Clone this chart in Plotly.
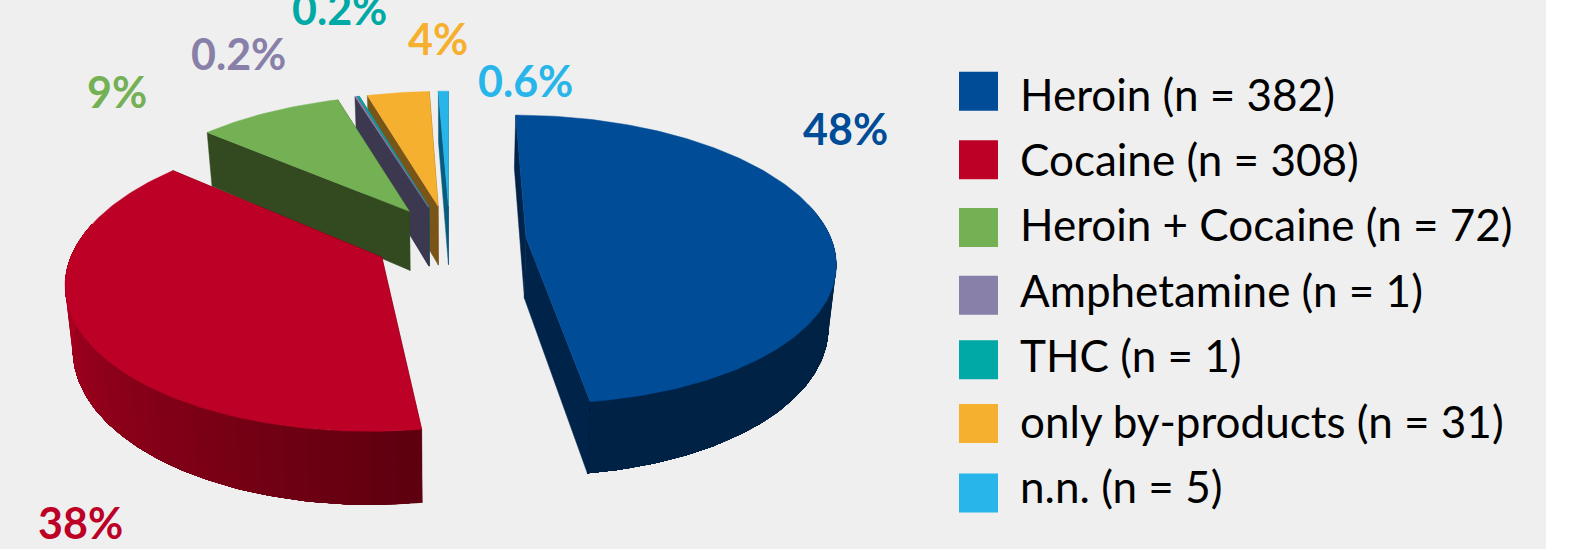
import math
import plotly.graph_objects as go

# Drug groups and their case counts
categories = ["Heroin", "Cocaine", "Heroin + Cocaine", "Amphetamine", "THC", "only by-products", "n.n."]
counts = [382, 308, 72, 1, 1, 31, 5]
percent_labels = ["48%", "38%", "9%", "0.2%", "0.2%", "4%", "0.6%"]

top_colors = ["#004C97", "#BC0026", "#74B054", "#8880A8", "#00A9A6", "#F6B02F", "#27B5EA"]
side_dark = ["#00234A", "#5E000F", "#334A20", "#3C384F", "#0B5A63", "#7A5518", "#0A5C7E"]
side_light = ["#002244", "#B00022", "#334A20", "#3C384F", "#0B5A63", "#7A5518", "#0A5C7E"]
label_centers = [(845, 128), (80, 522), (117, 91), (238, 53), (339, 8), (438, 38), (525, 80)]
swatch_rows = [91.3, 159.7, 227.5, 295.2, 359.7, 423.5, 493]

# Perspective camera for the pie's ground plane (pixel units)
VANISH_X = 448
CENTER_X, CENTER_Y = 450, 240
RADIUS_X, RADIUS_Y = 305.5, 141.7
PERSPECTIVE = 0.152
EXPLODE = 0.25
DEPTH = 61
BOTTOM_SCALE = 0.98
BACKGROUND = "#EFEFEF"


def project(wx, wy, bottom=False):
    """Ground-plane point to pixel coordinates, optionally on the lower face."""
    w = 1 + PERSPECTIVE * wy
    px = VANISH_X + (CENTER_X - VANISH_X + RADIUS_X * wx) / w
    py = CENTER_Y - RADIUS_Y * wy / w
    if bottom:
        px = VANISH_X + (px - VANISH_X) * BOTTOM_SCALE
        py += DEPTH / w
    return px, py


def mix(c1, c2, t):
    a = [int(c1[i:i + 2], 16) for i in (1, 3, 5)]
    b = [int(c2[i:i + 2], 16) for i in (1, 3, 5)]
    return "rgb({},{},{})".format(*[round(p + (q - p) * t) for p, q in zip(a, b)])


def polygon(points, color, name, stroke=0.5):
    xs = [p[0] for p in points] + [points[0][0]]
    ys = [p[1] for p in points] + [points[0][1]]
    return go.Scatter(x=xs, y=ys, mode="lines", fill="toself", fillcolor=color,
                      line=dict(color=color, width=stroke), name=name,
                      hoverinfo="skip", showlegend=False)


total = sum(counts)
spans, start = [], 0.0
for n in counts:
    sweep = 360 * n / total
    spans.append((start, start + sweep))
    start += sweep


def slice_traces(i):
    a0, a1 = spans[i]
    mid = math.radians((a0 + a1) / 2)
    ox, oy = EXPLODE * math.sin(mid), EXPLODE * math.cos(mid)
    rim = lambda deg: (ox + math.sin(math.radians(deg)), oy + math.cos(math.radians(deg)))
    steps = max(2, int(math.ceil(a1 - a0)))
    angles = [a0 + (a1 - a0) * k / steps for k in range(steps + 1)]
    name = categories[i]
    out = []
    # Radial walls
    for deg in (a0, a1):
        rx, ry = rim(deg)
        out.append(polygon([project(ox, oy), project(rx, ry), project(rx, ry, True), project(ox, oy, True)],
                           side_dark[i], name))
    # Curved wall: each band runs on to the end of the visible arc, so the next band
    # paints over it and no seams show between neighbouring shades
    visible = [d for d in angles if math.cos(math.radians(d)) <= 0.25]
    band_step = 2
    for k in range(0, max(len(visible) - 1, 0), band_step):
        t = min(1.0, (visible[k] - a0) / 100)
        arc = visible[k:]
        outline = [project(*rim(d)) for d in arc] + [project(*rim(d), True) for d in reversed(arc)]
        out.append(polygon(outline, mix(side_dark[i], side_light[i], t), name, stroke=0))
    # Upper face
    out.append(polygon([project(ox, oy)] + [project(*rim(d)) for d in angles], top_colors[i], name))
    return out


fig = go.Figure()
# Painted from the rear slices to the nearest one
for i in (6, 5, 4, 3, 2, 0, 1):
    for trace in slice_traces(i):
        fig.add_trace(trace)

# Legend column
TEXT_ROW_TOP, TEXT_ROW_STEP = 93.5, 65.4
SWATCH_X, TEXT_X = 978.5, 1018
legend_labels = [f"{c} (n = {n})" for c, n in zip(categories, counts)]
fig.add_trace(go.Scatter(x=[SWATCH_X] * len(swatch_rows), y=swatch_rows, mode="markers",
                         showlegend=False, hoverinfo="skip",
                         marker=dict(symbol="square", size=39, color=top_colors, line=dict(width=0))))

annotations = []
for k, label in enumerate(legend_labels):
    annotations.append(dict(x=TEXT_X, y=TEXT_ROW_TOP + TEXT_ROW_STEP * k, text=label, xref="x", yref="y",
                            showarrow=False, xanchor="left", yanchor="middle",
                            font=dict(family="Lato", size=44, color="#000000")))
for label, (x, y), color in zip(percent_labels, label_centers, top_colors):
    annotations.append(dict(x=x, y=y, text=f"<b>{label}</b>", xref="x", yref="y", showarrow=False,
                            xanchor="center", yanchor="middle",
                            font=dict(family="Lato", size=43, color=color)))

fig.update_layout(
    width=1585, height=549, margin=dict(l=0, r=0, t=0, b=0), autosize=False,
    paper_bgcolor="#FFFFFF", plot_bgcolor="#FFFFFF", showlegend=False,
    xaxis=dict(range=[0, 1585], visible=False, fixedrange=True),
    yaxis=dict(range=[549, 0], visible=False, fixedrange=True),
    shapes=[dict(type="rect", xref="x", yref="y", x0=0, x1=1546, y0=0, y1=549,
                 fillcolor=BACKGROUND, line=dict(width=0), layer="below")],
    annotations=annotations,
)
fig.write_html("out.html")
